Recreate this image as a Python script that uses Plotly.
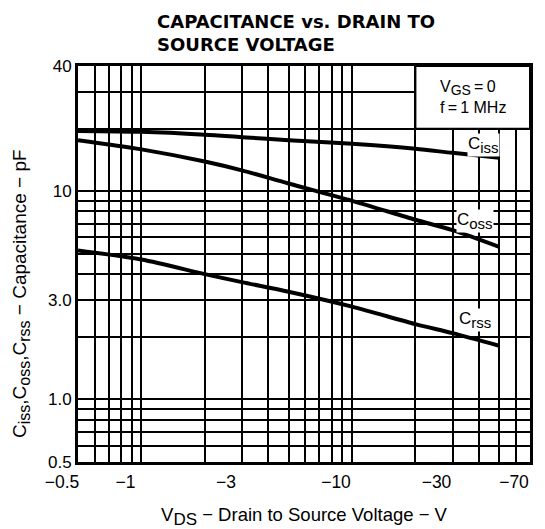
import numpy as np
import plotly.graph_objects as go

# ---- data ----
vds = [-0.5, -1, -2, -3, -5, -10, -20, -30, -50]
ciss = [19.5, 19.3, 18.7, 18.2, 17.6, 16.9, 16.0, 15.3, 14.5]
coss = [17.6, 15.9, 13.9, 12.6, 10.9, 9.0, 7.3, 6.5, 5.4]
crss = [5.2, 4.7, 4.0, 3.66, 3.29, 2.79, 2.30, 2.08, 1.81]

x_tick_vals = [-0.5, -1, -3, -10, -30, -70]
x_tick_text = ["\u22120.5", "\u22121", "\u22123", "\u221210", "\u221230", "\u221270"]
x_minor_vals = [-0.6, -0.7, -0.8, -0.9, -2, -4, -5, -6, -7, -8, -9, -20, -40, -50, -60]
y_tick_vals = [0.5, 1, 3, 10, 40]
y_tick_text = ["0.5", "1.0", "3.0", "10", "40"]
y_minor_vals = [0.6, 0.7, 0.8, 0.9, 2, 4, 5, 6, 7, 8, 9, 20, 30]


def sub(s, size):
    return '<sub><span style="font-size:%dpx">%s</span></sub>' % (size, s)


series_names = ["C" + sub("iss", 15), "C" + sub("oss", 15), "C" + sub("rss", 15)]
series_vals = [ciss, coss, crss]

FONT = "Liberation Sans, Arial, sans-serif"
absx = np.abs(vds)

fig = go.Figure()
for name, vals in zip(series_names, series_vals):
    fig.add_trace(go.Scatter(x=absx, y=vals, mode="lines", name=name,
                             line=dict(color="black", width=4, shape="spline", smoothing=0.8),
                             showlegend=False))

grid = dict(showgrid=True, gridcolor="black", gridwidth=2)

fig.update_xaxes(type="log", range=[np.log10(0.5), np.log10(70)], automargin=False,
                 tickmode="array", tickvals=np.abs(x_tick_vals), ticktext=x_tick_text,
                 ticklabelshift=-16, ticklabelstandoff=2,
                 ticks="", showline=True, linecolor="black", linewidth=3, mirror=True,
                 tickfont=dict(family=FONT, size=17.5, color="black"),
                 minor=dict(tickmode="array", tickvals=np.abs(x_minor_vals),
                            showgrid=True, gridcolor="black", gridwidth=2, ticks=""),
                 title=dict(text="V" + sub("DS", 17) + " \u2212 Drain to Source Voltage \u2212 V",
                            font=dict(family=FONT, size=18.5, color="black"), standoff=18),
                 zeroline=False, **grid)
fig.update_yaxes(type="log", range=[np.log10(0.5), np.log10(40)], automargin=False,
                 tickmode="array", tickvals=y_tick_vals, ticktext=y_tick_text,
                 ticks="", showline=True, linecolor="black", linewidth=3, mirror=True,
                 tickfont=dict(family=FONT, size=17, color="black"),
                 minor=dict(tickmode="array", tickvals=y_minor_vals,
                            showgrid=True, gridcolor="black", gridwidth=2, ticks=""),
                 zeroline=False, **grid)

# y-axis title (placed a little below the plot centre, as in the reference)
fig.add_annotation(xref="paper", yref="paper", x=(21 - 78) / 452, y=(462 - 294) / 396,
                   xanchor="center", yanchor="middle", textangle=-90, showarrow=False,
                   text="C" + sub("iss", 16) + ",C" + sub("oss", 16) + ",C" + sub("rss", 16)
                        + " \u2212 Capacitance \u2212 pF",
                   font=dict(family=FONT, size=19, color="black"))

# condition box (top-right)
fig.add_shape(type="rect", xref="x", yref="y", x0=20, x1=70, y0=20, y1=40,
              fillcolor="white", line=dict(color="black", width=2), layer="above")
fig.add_annotation(xref="x", yref="y", x=np.log10(37.5), y=np.log10(28.5),
                   text="V" + sub("GS", 14) + "\u2009=\u20090<br>f\u2009=\u20091 MHz", showarrow=False,
                   align="left", font=dict(family=FONT, size=16, color="black"))

# curve labels
label_pos = [(42, 16.7), (38.5, 7.2), (38.5, 2.4)]
for name, (lx, ly) in zip(series_names, label_pos):
    fig.add_annotation(xref="x", yref="y", x=np.log10(lx), y=np.log10(ly), text=name,
                       showarrow=False, bgcolor="white", borderpad=0,
                       font=dict(family=FONT, size=17, color="black"))

# chart title
fig.add_annotation(xref="paper", yref="paper", x=(155 - 78) / 452, y=1 + (66 - 9) / 396,
                   xanchor="left", yanchor="top", align="left", showarrow=False,
                   text="CAPACITANCE vs. DRAIN TO<br>SOURCE VOLTAGE",
                   font=dict(family="DejaVu Sans, sans-serif", size=18, color="black", weight="bold"))

# page body has an 8px margin: offset the figure so the plot area lands at 78..530 x 66..462
fig.update_layout(
    width=545, height=529,
    margin=dict(l=70, r=23, t=58, b=75),
    paper_bgcolor="white", plot_bgcolor="white",
)

fig.write_html("out.html")
